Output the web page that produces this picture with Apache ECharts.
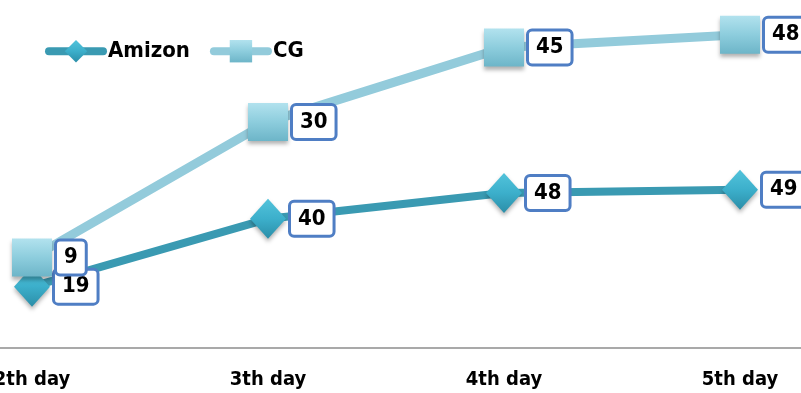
<!DOCTYPE html>
<html>
<head>
<meta charset="utf-8">
<script src="https://cdn.jsdelivr.net/npm/echarts@6/dist/echarts.min.js"></script>
<style>
    html,body{margin:0;padding:0;background:#fff;}
    #main{width:801px;height:393px;}
</style>
</head>
<body>
<div id="main"></div>
<script>
    var days = ['2th day', '3th day', '4th day', '5th day'];
    var amizon = [19, 40, 48, 49];
    var cg = [9, 30, 45, 48];

    var narrow = "'Liberation Sans Narrow', 'DejaVu Sans Condensed', 'Liberation Sans', sans-serif";

    //数据标签样式
    var boxLabel = {
        show: true,
        position: 'right',
        distance: 5,
        color: '#000',
        fontFamily: narrow,
        fontWeight: 'bold',
        fontSize: 22,
        lineHeight: 24,
        backgroundColor: '#fff',
        borderColor: '#4F7EC4',
        borderWidth: 3,
        borderRadius: 3,
        padding: [4, 7, 4, 7]
    };

    var option = {
        animation: false,
        legend: {
            left: 40,
            top: 35,
            itemWidth: 54,
            itemHeight: 28,
            itemGap: 20,
            textStyle: {
                fontFamily: narrow,
                fontWeight: 'bold',
                fontSize: 22,
                color: '#000'
            },
            lineStyle: {width: 8, cap: 'round'},
            data: ['Amizon', 'CG']
        },
        grid: [
            {left: 32, right: 61, top: 25, bottom: 45, outerBoundsMode: 'none'},
            {left: 0, right: 0, top: 25, bottom: 45, outerBoundsMode: 'none'}   //只用来画整条底线
        ],
        xAxis: [
            {
                type: 'category',
                data: days,
                boundaryGap: false,
                gridIndex: 0,
                axisLine: {show: false},
                axisTick: {show: false},
                axisLabel: {
                    margin: 22,
                    color: '#000',
                    fontFamily: narrow,
                    fontWeight: 'bold',
                    fontSize: 20
                }
            },
            {
                type: 'value',
                gridIndex: 1,
                axisLine: {show: true, onZero: false, lineStyle: {color: '#8c8c8c', width: 1.5}},
                axisTick: {show: false},
                axisLabel: {show: false},
                splitLine: {show: false}
            }
        ],
        yAxis: [
            {type: 'value', min: 0, max: 100, show: false, gridIndex: 0},
            {type: 'value', min: 0, max: 100, show: false, gridIndex: 1}
        ],
        series: [
            {
                name: 'Amizon',
                type: 'line',
                stack: 'total',
                data: amizon,
                symbol: 'diamond',
                symbolSize: [36, 40],
                lineStyle: {color: '#3A9AB2', width: 8},
                itemStyle: {
                    color: new echarts.graphic.LinearGradient(0, 0, 0, 1, [
                        {offset: 0, color: '#52C3DB'},
                        {offset: 0.5, color: '#3CAFCB'},
                        {offset: 1, color: '#2B8EA8'}
                    ]),
                    shadowBlur: 4,
                    shadowOffsetY: 3,
                    shadowColor: 'rgba(0,0,0,0.3)'
                },
                label: boxLabel,
                z: 2
            },
            {
                name: 'CG',
                type: 'line',
                stack: 'total',
                data: cg,
                symbol: 'rect',
                symbolSize: [40, 38],
                lineStyle: {color: '#93CBDB', width: 9},
                itemStyle: {
                    color: new echarts.graphic.LinearGradient(0, 0, 0, 1, [
                        {offset: 0, color: '#B2E2EE'},
                        {offset: 0.5, color: '#8DCDDD'},
                        {offset: 1, color: '#6DB5C8'}
                    ]),
                    shadowBlur: 4,
                    shadowOffsetY: 3,
                    shadowColor: 'rgba(0,0,0,0.3)'
                },
                label: boxLabel,
                z: 3
            }
        ]
    };

    var myChart = echarts.init(document.getElementById('main'));
    myChart.setOption(option);
</script>
</body>
</html>
